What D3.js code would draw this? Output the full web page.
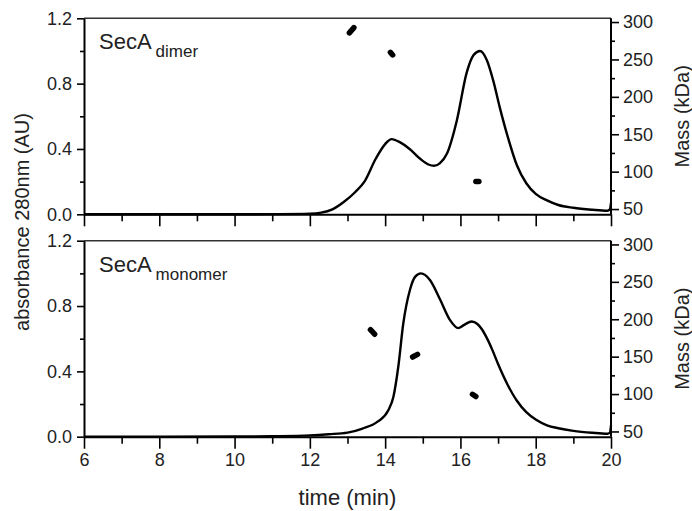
<!DOCTYPE html>
<html><head><meta charset="utf-8">
<script src="https://cdn.jsdelivr.net/npm/d3@7/dist/d3.min.js"></script>
<style>
body{margin:0;background:#fff;}
text{font-family:"Liberation Sans",Arial,sans-serif;fill:#222;}
</style></head>
<body>
<svg id="chart" width="692" height="511"></svg>
<script>
// ---- data ----
const timeDimer = [6,10,11,12,12.3,12.6,12.9,13.2,13.45,13.75,14.0,14.17,14.4,14.65,14.93,15.15,15.3,15.45,15.64,15.9,16.17,16.35,16.52,16.7,16.87,17.05,17.25,17.5,17.75,18.0,18.3,18.6,19.0,19.5,19.9,19.97,20];
const absDimer  = [0,0,0.001,0.004,0.01,0.03,0.075,0.135,0.2,0.34,0.43,0.46,0.44,0.4,0.34,0.305,0.297,0.312,0.37,0.57,0.87,0.975,1.0,0.945,0.82,0.65,0.48,0.3,0.19,0.125,0.085,0.057,0.04,0.028,0.022,0.03,0.07];

const timeMono = [6,10,11,12,12.5,13.0,13.4,13.8,14.08,14.22,14.35,14.48,14.66,14.8,14.95,15.19,15.46,15.72,15.94,16.1,16.3,16.45,16.57,16.7,16.85,17.0,17.25,17.5,17.75,18.0,18.3,18.6,19.0,19.5,19.9,19.97,20];
const absMono  = [0,0.001,0.003,0.008,0.015,0.025,0.05,0.092,0.16,0.245,0.43,0.69,0.9,0.98,1.0,0.96,0.84,0.715,0.665,0.685,0.705,0.69,0.658,0.605,0.53,0.445,0.32,0.22,0.15,0.105,0.07,0.052,0.036,0.024,0.018,0.025,0.07];

// mass measurements (start/end of each streak)
const massTimeDimer = [[13.05,13.17],[14.14,14.2],[16.41,16.49]];
const massValDimer  = [[285.5,292.5],[259.5,256],[87,87]];
const massTimeMono  = [[13.61,13.72],[14.73,14.86],[16.32,16.41]];
const massValMono   = [[186,180],[149.5,153],[99.7,96.7]];

const panelLabels = [["SecA","dimer"],["SecA","monomer"]];
const xMajorTicks = [6,8,10,12,14,16,18,20];
const xMinorTicks = [7,9,11,13,15,17,19];
const yMajorTicks = [0,0.4,0.8,1.2];
const yMinorTicks = [0.2,0.6,1.0];
const mMajorTicks = [50,100,150,200,250,300];
const mMinorTicks = [75,125,175,225,275];

// ---- drawing ----
const svg = d3.select("#chart");
const x = d3.scaleLinear().domain([6,20]).range([84,611]);
const panels = [
  {top:18.3, bottom:214.3, t:timeDimer, a:absDimer, mt:massTimeDimer, mv:massValDimer, lab:panelLabels[0], xlabels:false},
  {top:240.7, bottom:436.7, t:timeMono, a:absMono, mt:massTimeMono, mv:massValMono, lab:panelLabels[1], xlabels:true}
];

panels.forEach(p => {
  const y = d3.scaleLinear().domain([0,1.2]).range([p.bottom,p.top]);
  const m = d3.scaleLinear().domain([43,305]).range([p.bottom,p.top]);
  const g = svg.append("g");

  // top frame
  g.append("line").attr("x1",x(6)).attr("x2",x(20)).attr("y1",p.top).attr("y2",p.top)
    .attr("stroke","#333").attr("stroke-width",1.5);

  const style = sel => {
    sel.select(".domain").attr("stroke","#000").attr("stroke-width",2);
    sel.selectAll(".tick line").attr("stroke","#000").attr("stroke-width",1.6);
    sel.selectAll(".tick text").style("font-size","18px").attr("fill","#222");
  };

  // bottom axis
  const bx = g.append("g").attr("transform",`translate(0,${p.bottom})`)
    .call(d3.axisBottom(x).tickValues(xMajorTicks).tickSize(12).tickSizeOuter(0).tickPadding(5)
      .tickFormat(p.xlabels ? d3.format("d") : () => ""));
  style(bx);
  const bxm = g.append("g").attr("transform",`translate(0,${p.bottom})`)
    .call(d3.axisBottom(x).tickValues(xMinorTicks).tickSize(7).tickFormat(() => ""));
  style(bxm); bxm.select(".domain").remove();

  // left axis
  const ly = g.append("g").attr("transform",`translate(${x(6)},0)`)
    .call(d3.axisLeft(y).tickValues(yMajorTicks).tickSize(7).tickSizeOuter(0).tickPadding(5).tickFormat(d3.format(".1f")));
  style(ly);
  const lym = g.append("g").attr("transform",`translate(${x(6)},0)`)
    .call(d3.axisLeft(y).tickValues(yMinorTicks).tickSize(4).tickFormat(() => ""));
  style(lym); lym.select(".domain").remove();

  // right axis (mass)
  const ry = g.append("g").attr("transform",`translate(${x(20)},0)`)
    .call(d3.axisRight(m).tickValues(mMajorTicks).tickSize(8).tickSizeOuter(0).tickPadding(4).tickFormat(d3.format("d")));
  style(ry);
  ry.select(".domain").attr("d",`M0,${p.bottom}V${p.top}`);
  const rym = g.append("g").attr("transform",`translate(${x(20)},0)`)
    .call(d3.axisRight(m).tickValues(mMinorTicks).tickSize(4).tickFormat(() => ""));
  style(rym); rym.select(".domain").remove();

  // absorbance trace
  const pts = p.t.map((t,i) => [t,p.a[i]]);
  g.append("path").datum(pts)
    .attr("fill","none").attr("stroke","#000").attr("stroke-width",2.4).attr("stroke-linejoin","round")
    .attr("d", d3.line().x(d => x(d[0])).y(d => y(d[1])).curve(d3.curveMonotoneX));

  // mass streaks
  g.selectAll(".mass").data(p.mt.map((tt,i) => ({t:tt, v:p.mv[i]}))).join("line")
    .attr("x1",d => x(d.t[0])).attr("x2",d => x(d.t[1]))
    .attr("y1",d => m(d.v[0])).attr("y2",d => m(d.v[1]))
    .attr("stroke","#000").attr("stroke-width",5.5).attr("stroke-linecap","round");

  // panel label
  const tl = g.append("text").attr("x",99).attr("y",p.top+31).style("font-size","22px");
  tl.append("tspan").text(p.lab[0]);
  tl.append("tspan").attr("dx",4).attr("dy",8).style("font-size","17px").text(p.lab[1]);

  // right axis title
  g.append("text").attr("transform",`translate(682,${(p.top+p.bottom)/2}) rotate(-90)`)
    .attr("text-anchor","middle").attr("dy","0.35em").style("font-size","20px").text("Mass (kDa)");
});

// left axis title
svg.append("text").attr("transform","translate(22,222) rotate(-90)")
  .attr("text-anchor","middle").attr("dy","0.35em").style("font-size","20px").text("absorbance 280nm (AU)");

// x axis title
svg.append("text").attr("x",(x(6)+x(20))/2).attr("y",497).attr("text-anchor","middle")
  .attr("dy","0.35em").style("font-size","22px").text("time (min)");
</script>
</body></html>
